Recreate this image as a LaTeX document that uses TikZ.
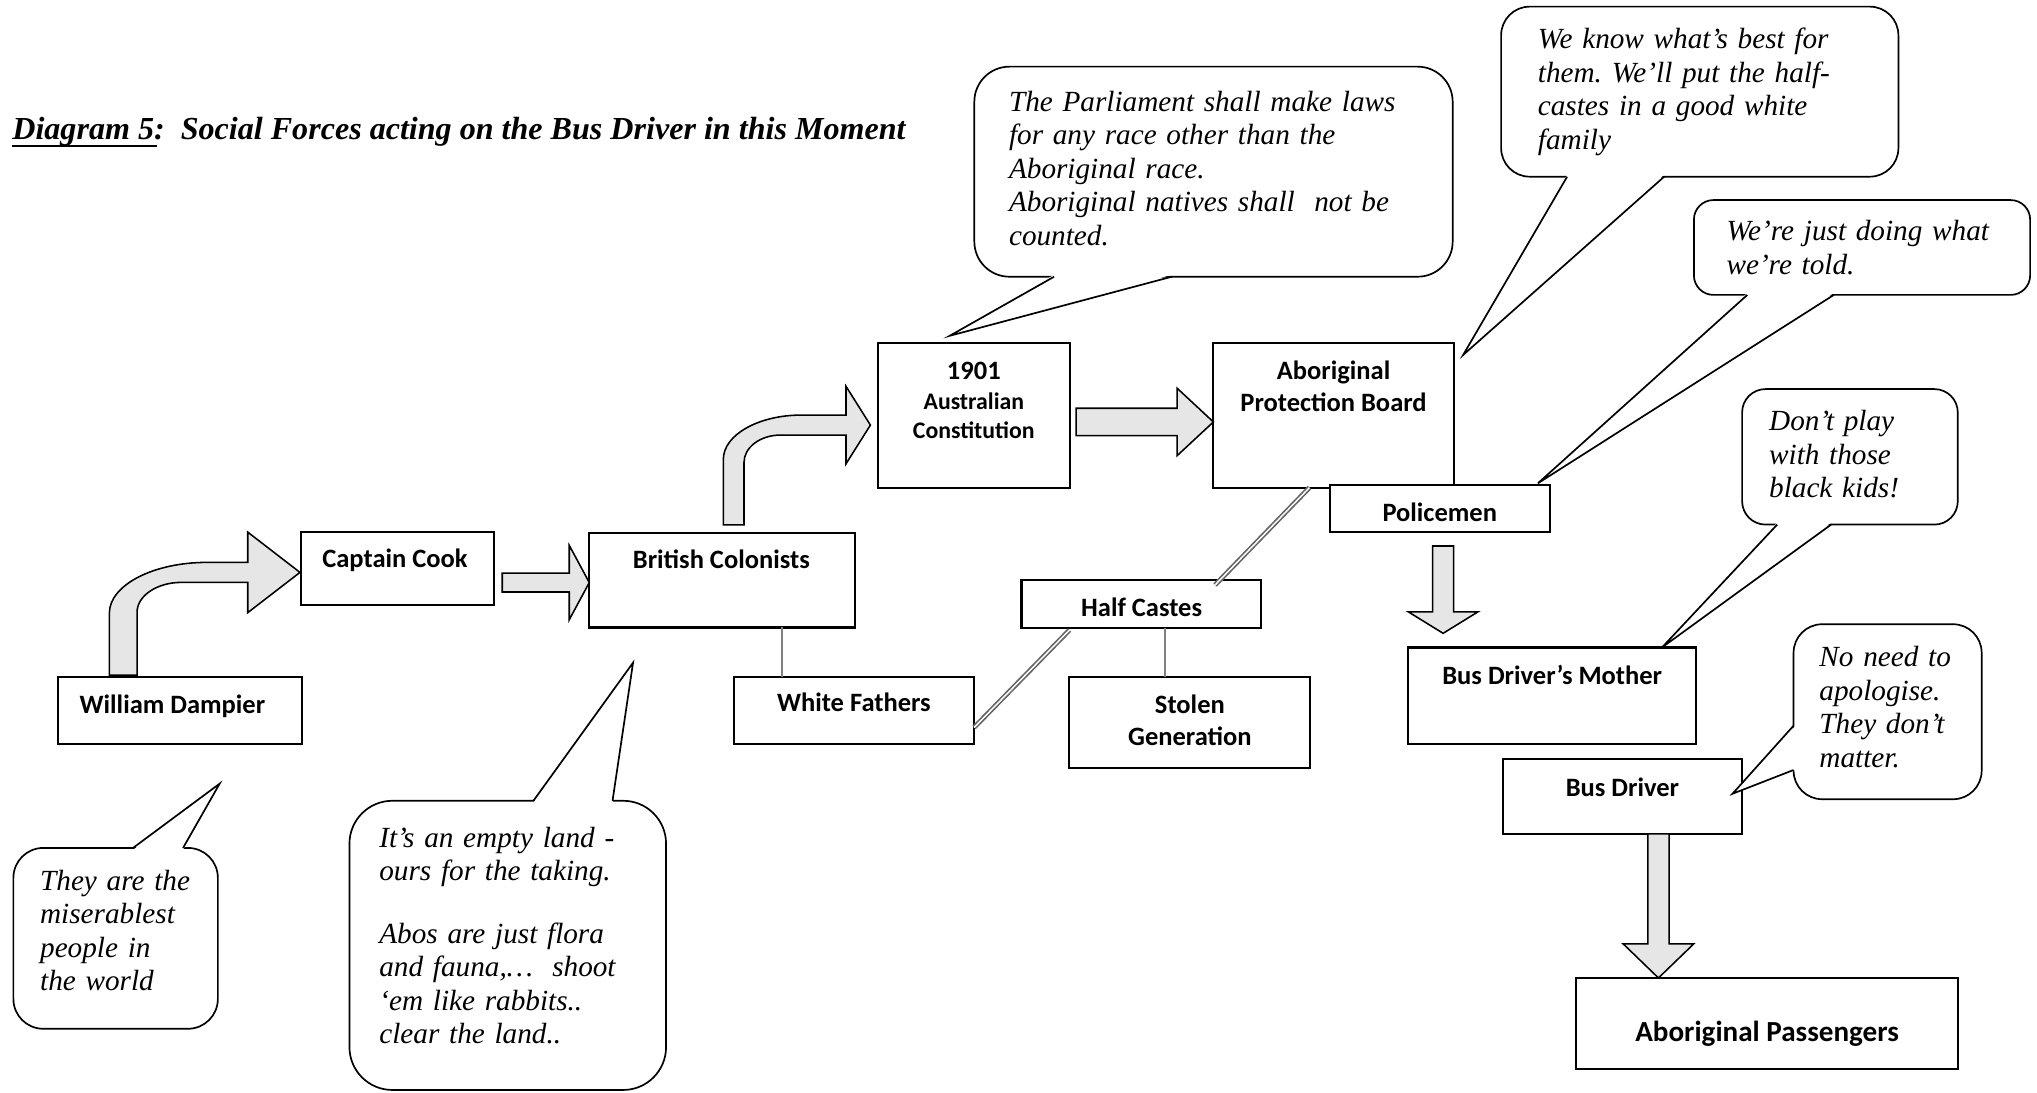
\documentclass[tikz,border=0pt]{standalone}
\usepackage{fontspec}
\setmainfont{Liberation Serif}
\newfontfamily\boxfont{Carlito}
\usetikzlibrary{calc}
\definecolor{arrowfill}{RGB}{230,230,230}
\definecolor{linkgray}{RGB}{128,128,128}
\definecolor{doublegray}{RGB}{100,100,100}
\frenchspacing

\newcommand\ulined[1]{\setbox0\hbox{#1}\rlap{\rule[-5.6pt]{\dimexpr\wd0+2pt\relax}{1.3pt}}\box0}
\newcommand\calloutTail[4]{%
  \fill[white] ($(#1)+(#4)$) -- (#3) -- ($(#2)+(#4)$) -- cycle;
  \draw[tail] (#1) -- (#3) -- (#2);
}
\newcommand\rightblock[5]{%
  \draw[blockarrow] ($(#1)+(0,-#3)$) -- ($(#2)+(-#5,-#3)$) -- ($(#2)+(-#5,-#4)$) -- (#2)
    -- ($(#2)+(-#5,#4)$) -- ($(#2)+(-#5,#3)$) -- ($(#1)+(0,#3)$) -- cycle;
}
\newcommand\downblock[5]{%
  \draw[blockarrow] ($(#1)+(-#3,0)$) -- ($(#2)+(-#3,-#5)$) -- ($(#2)+(-#4,-#5)$) -- (#2)
    -- ($(#2)+(#4,-#5)$) -- ($(#2)+(#3,-#5)$) -- ($(#1)+(#3,0)$) -- cycle;
}
\newcommand\constfont{\fontsize{18.3}{22.5}\selectfont}

\begin{document}
\begin{tikzpicture}[x=1pt, y=-1pt,
  box/.style={draw, fill=white, line width=1.6pt, inner sep=0pt, outer sep=0pt, anchor=north west},
  boxtext/.style={font=\boxfont\bfseries\fontsize{20.4}{24.5}\selectfont, inner sep=0pt, anchor=base, align=center},
  bubble/.style={draw, fill=white, line width=1.3pt, rounded corners=#1, inner ysep=0pt, outer sep=0pt,
    anchor=north west, align=left, font=\itshape\fontsize{22.5}{25.8}\selectfont},
  tail/.style={line width=1.3pt, line join=miter},
  blockarrow/.style={draw, fill=arrowfill, line width=1.2pt, line join=miter},
  link/.style={draw=linkgray, line width=1.5pt},
  doublelink/.style={draw=doublegray, double=white, line width=1.3pt, double distance=1.1pt}]

  \useasboundingbox (0,0) rectangle (1568,841);

  % --- Title ---
  \node[anchor=base west, inner sep=0pt, font=\bfseries\itshape\fontsize{24.7}{29}\selectfont] (title)
    at (9.3,107.3) {\ulined{Diagram 5}:\ \ Social Forces acting on the Bus Driver in this Moment};

  % --- Boxes ---
  \node[box, minimum width=187.5, minimum height=52] (dampier) at (45,521) {};
  \node[box, minimum width=148, minimum height=56] (cook) at (232,409.6) {};
  \node[box, minimum width=204.3, minimum height=73] (colonists) at (453.6,410) {};
  \node[box, minimum width=148, minimum height=111] (constitution) at (675.6,264.3) {};
  \node[box, minimum width=185, minimum height=111] (board) at (934,264.3) {};
  \node[box, minimum width=169.5, minimum height=36.8] (policemen) at (1023.5,373) {};
  \node[box, minimum width=185, minimum height=52] (whitefathers) at (564.8,521) {};
  \node[box, minimum width=184.2, minimum height=36.5] (halfcastes) at (786.3,446.7) {};
  \node[box, minimum width=185.4, minimum height=70.4] (stolen) at (823.2,521) {};
  \node[box, minimum width=221.7, minimum height=74.2] (mother) at (1084,498.4) {};
  \node[box, minimum width=183.8, minimum height=57.7] (busdriver) at (1157,584.1) {};
  \node[box, minimum width=294.2, minimum height=70] (passengers) at (1213.1,752.8) {};

  % box labels (multi-line ones sit on their last line)
  \node[boxtext] (dampier-t) at ($(dampier.north)+(-6,28.4)$) {William Dampier};
  \node[boxtext] (cook-t) at ($(cook.north)+(-2,27.4)$) {Captain Cook};
  \node[boxtext] (colonists-t) at ($(colonists.north)+(-0.5,27.5)$) {British Colonists};
  \node[boxtext, font=\boxfont\bfseries\constfont] (constitution-t) at ($(constitution.north)+(0,73.1)$)
    {{\fontsize{20.4}{22.5}\selectfont 1901}\\ Australian\\ Constitution};
  \node[boxtext] (board-t) at ($(board.north)+(0,52.7)$) {Aboriginal\\ Protection Board};
  \node[boxtext] (policemen-t) at ($(policemen.north)+(0,28.8)$) {Policemen};
  \node[boxtext] (whitefathers-t) at ($(whitefathers.north)+(0,27)$) {White Fathers};
  \node[boxtext] (halfcastes-t) at ($(halfcastes.north)+(0.4,28)$) {Half Castes};
  \node[boxtext] (stolen-t) at ($(stolen.north)+(0,52.5)$) {Stolen\\ Generation};
  \node[boxtext] (mother-t) at ($(mother.north)+(0,28.6)$) {Bus Driver’s Mother};
  \node[boxtext] (busdriver-t) at ($(busdriver.north)+(0,28.7)$) {Bus Driver};
  \node[boxtext, font=\boxfont\bfseries\fontsize{22.4}{26}\selectfont] (passengers-t)
    at ($(passengers.north)+(0,49)$) {Aboriginal Passengers};

  % --- Block arrows ---
  \begin{scope}[shift={($(dampier.north)+(-43.9,-1.3)$)}]
    \draw[blockarrow] (-10.65,0) -- (-10.65,-47.8) .. controls (-10.65,-69.25) and (23.1,-86.8) .. (64.35,-86.8)
      -- (95.85,-86.8) -- (95.85,-110.1) -- (136.05,-79.1) -- (95.85,-48.1) -- (95.85,-71.4)
      -- (44.65,-71.4) .. controls (25.95,-71.4) and (10.65,-61.05) .. (10.65,-48.4) -- (10.65,0) -- cycle;
  \end{scope}
  \begin{scope}[shift={($(colonists.north)+(9,-6)$)}]
    \draw[blockarrow] (-7.95,0) -- (-7.95,-50.5) .. controls (-7.95,-69.2) and (19.05,-84.5) .. (52.05,-84.5)
      -- (86.45,-84.5) -- (86.45,-106.65) -- (105.25,-76.8) -- (86.45,-46.95) -- (86.45,-69.1)
      -- (35.95,-69.1) .. controls (20.55,-69.1) and (7.95,-59.65) .. (7.95,-48.1) -- (7.95,0) -- cycle;
  \end{scope}

  \coordinate (cc-a) at ($(cook.east)+(6.6,10.8)$);
  \coordinate (cc-b) at (cc-a -| colonists.west);
  \rightblock{cc-a}{cc-b}{7.3}{28.6}{15.4}

  \coordinate (cb-a) at ($(constitution.east)+(4.7,5)$);
  \coordinate (cb-b) at (cb-a -| board.west);
  \rightblock{cb-a}{cb-b}{10.55}{25.95}{27.9}

  \coordinate (pm-a) at ($(policemen.south)+(2.6,10.5)$);
  \coordinate (pm-b) at ($(pm-a)+(0,67.2)$);
  \downblock{pm-a}{pm-b}{8.1}{26.75}{16.5}

  \coordinate (bp-a) at ($(busdriver.south)+(27.7,0)$);
  \coordinate (bp-b) at (bp-a |- passengers.north);
  \downblock{bp-a}{bp-b}{8.2}{27.2}{26.3}

  % --- Links ---
  \coordinate (cw-a) at ($(colonists.south west)+(148.4,0)$);
  \draw[link] (cw-a) -- (cw-a |- whitefathers.north);
  \coordinate (hs-a) at ($(halfcastes.south west)+(110.7,0)$);
  \draw[link] (hs-a) -- (hs-a |- stolen.north);
  \draw[doublelink] ($(board.south west)+(74,0)$) -- ($(halfcastes.north west)+(149,3.6)$);
  \draw[doublelink] ($(halfcastes.south west)+(36.9,1.8)$) -- ($(whitefathers.north east)+(0,39)$);

  % --- Speech bubbles ---
  \node[bubble=23, minimum width=157.4, minimum height=139.2, inner xsep=20.6, text width=116.2, text depth=89.7pt]
    (saydampier) at (10.3,652.7) {They are the\\ miserablest\\ people in\\ the world};
  \node[bubble=33, minimum width=243.7, minimum height=222.6, inner xsep=23, text width=197.7, text depth=166.5pt]
    (saycolonists) at (269,616.4) {It’s an empty land -\\ ours for the taking.\\[22.2pt]
      Abos are just flora\\ and fauna,…\ \ shoot\\ ‘em like rabbits..\\ clear the land..};
  \node[bubble=27, minimum width=368.2, minimum height=161.7, inner xsep=26.7, text width=314.8, text depth=108.5pt]
    (sayparliament) at (750,51.3) {The Parliament shall make laws\\ for any race other than the\\
      Aboriginal race.\\ Aboriginal natives shall\ \ not be\\ counted.};
  \node[bubble=22, minimum width=305.8, minimum height=130.9, inner xsep=28.3, text width=249.2]
    (sayboard) at (1155.5,5.1) {We know what’s best for\\ them. We’ll put the half-\\ castes in a good white\\ family};
  \node[bubble=15, minimum width=258.8, minimum height=73, inner xsep=25.1, text width=208.6]
    (saypolice) at (1303.9,154) {We’re just doing what\\ we’re told.};
  \node[bubble=18, minimum width=166, minimum height=104.3, inner xsep=20.8, text width=124.4, text depth=55.9pt]
    (saymother) at (1341,299.5) {Don’t play\\ with those\\ black kids!};
  \node[bubble=22, minimum width=144.8, minimum height=134.7, inner xsep=19.9, text width=105, text depth=84.7pt]
    (saydriver) at (1380.6,480.5) {No need to\\ apologise.\\ They don’t\\ matter.};

  % tails
  \coordinate (dampier-say) at ($(dampier.south)+(30.35,30.2)$);
  \coordinate (saydampier-a) at ($(saydampier.north west)+(92.1,0)$);
  \coordinate (saydampier-b) at ($(saydampier.north west)+(130.6,0)$);
  \calloutTail{saydampier-a}{saydampier-b}{dampier-say}{0,1.5}

  \coordinate (colonists-say) at ($(colonists.south)+(-68.45,27.1)$);
  \coordinate (saycolonists-a) at ($(saycolonists.north west)+(141.6,0)$);
  \coordinate (saycolonists-b) at ($(saycolonists.north west)+(202.5,0)$);
  \calloutTail{saycolonists-a}{saycolonists-b}{colonists-say}{0,1.5}

  \coordinate (constitution-say) at ($(constitution.north)+(-18.6,-5.8)$);
  \coordinate (sayparliament-a) at ($(sayparliament.south west)+(61.4,0)$);
  \coordinate (sayparliament-b) at ($(sayparliament.south west)+(152,0)$);
  \calloutTail{sayparliament-a}{sayparliament-b}{constitution-say}{0,-1.5}

  \coordinate (board-say) at ($(board.north east)+(7.2,9)$);
  \coordinate (sayboard-a) at ($(sayboard.south west)+(50.8,0)$);
  \coordinate (sayboard-b) at ($(sayboard.south west)+(125.5,0)$);
  \calloutTail{sayboard-a}{sayboard-b}{board-say}{0,-1.5}

  \coordinate (policemen-say) at ($(policemen.north east)+(-9.2,-1)$);
  \coordinate (saypolice-a) at ($(saypolice.south west)+(41.1,0)$);
  \coordinate (saypolice-b) at ($(saypolice.south west)+(107.7,0)$);
  \calloutTail{saypolice-a}{saypolice-b}{policemen-say}{0,-1.5}

  \coordinate (mother-say) at ($(mother.north east)+(-26.4,0)$);
  \coordinate (saymother-a) at ($(saymother.south west)+(27,0)$);
  \coordinate (saymother-b) at ($(saymother.south west)+(68.5,0)$);
  \calloutTail{saymother-a}{saymother-b}{mother-say}{0,-1.5}

  \coordinate (busdriver-say) at ($(busdriver.east)+(-7.2,-1.95)$);
  \coordinate (saydriver-a) at ($(saydriver.north west)+(0,78.1)$);
  \coordinate (saydriver-b) at ($(saydriver.north west)+(0,112.2)$);
  \calloutTail{saydriver-a}{saydriver-b}{busdriver-say}{1.5,0}

\end{tikzpicture}
\end{document}
